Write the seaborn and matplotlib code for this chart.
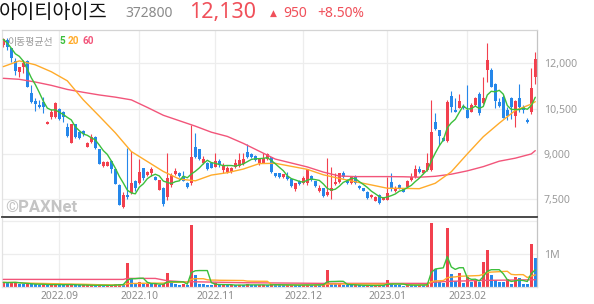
import numpy as np
import pandas as pd
import matplotlib
matplotlib.use("Agg")
import matplotlib.pyplot as plt
import seaborn as sns

# ---------------- data ----------------
stock_name = "아이티아이즈"
stock_code = "372800"
last_price = "12,130"
change_abs = "950"
change_pct = "+8.50%"

holidays = ["2022-08-15", "2022-09-09", "2022-09-12", "2022-10-03", "2022-10-10",
            "2022-12-30", "2023-01-23", "2023-01-24"]
dates = pd.bdate_range("2022-08-11", "2023-02-24")
dates = dates[~dates.isin(pd.to_datetime(holidays))]

opens = [12590, 12770, 12490, 12090, 11720, 11870, 12090, 11010, 10760, 10620,
         10730, 9990, 10210, 10210, 10480, 10400, 9900, 9370, 9980, 9740,
         9760, 9240, 9410, 9560, 9150, 8610, 8610, 8780, 8490, 7970,
         7230, 7640, 7700, 8100, 8030, 8520, 8300, 8380, 8250, 7810,
         7860, 7560, 7970, 8340, 8380, 8270, 8050, 8030, 9220, 9150,
         8690, 8690, 8690, 8580, 8780, 8470, 8410, 8410, 8580, 8600,
         8670, 9080, 9000, 8930, 8690, 8710, 8820, 8890, 8360, 8360,
         8230, 8270, 8160, 7830, 8100, 8030, 8030, 8270, 8100, 7790,
         7860, 7640, 7790, 8000, 8080, 8360, 8140, 8030, 8250, 7940,
         7860, 7750, 7560, 7450, 7640, 7480, 7480, 8080, 7790, 7970,
         7860, 7900, 8140, 8250, 8510, 8380, 8470, 8470, 10050, 9790,
         9540, 9430, 10920, 10460, 10530, 10600, 10460, 10400, 10620, 10970,
         10680, 11780, 11780, 11300, 10730, 10900, 10460, 10840, 10240, 10860,
         10570, 10120, 10400, 11550]
highs = [12830, 12830, 12510, 12160, 11890, 12110, 12120, 11280, 10840, 10790,
         10900, 10100, 10480, 10720, 10510, 10420, 10040, 9990, 10000, 9760,
         9790, 9400, 9660, 9580, 9180, 8760, 8770, 8800, 8510, 7990,
         7750, 9190, 9110, 8140, 8820, 8540, 8420, 8560, 8280, 8140,
         7920, 9020, 8360, 8520, 8400, 8420, 8080, 9960, 9680, 9170,
         8930, 8740, 8700, 9040, 8840, 8690, 8600, 8580, 8820, 9020,
         9020, 9330, 9020, 8960, 8860, 9020, 9020, 8910, 8370, 8370,
         8340, 8410, 8170, 8050, 8130, 8270, 8510, 8310, 8120, 7970,
         7870, 8860, 8580, 8360, 8380, 8420, 8160, 8260, 8300, 7960,
         7880, 7770, 7660, 7600, 7680, 7580, 8250, 8360, 7940, 7990,
         7880, 8130, 8360, 8640, 8590, 8480, 9020, 10790, 10340, 9800,
         9560, 10790, 11090, 10840, 10970, 10660, 11280, 10680, 10870, 11040,
         11530, 12660, 11830, 11340, 10840, 10960, 10560, 10900, 10780, 11300,
         10620, 10200, 11830, 12380]
lows = [12550, 12440, 12050, 11610, 11560, 11690, 11200, 10680, 10430, 10510,
        10350, 9980, 10150, 10190, 10120, 10070, 9570, 9350, 9540, 9500,
        9590, 9220, 9370, 9180, 8660, 8580, 8590, 8360, 8000, 7300,
        7200, 7500, 7680, 7780, 7990, 8130, 8280, 8270, 8130, 7800,
        7280, 7480, 7920, 8300, 8250, 8090, 7880, 7970, 8860, 8800,
        8660, 8470, 8520, 8560, 8580, 8360, 8360, 8380, 8530, 8580,
        8640, 8850, 8870, 8770, 8630, 8690, 8800, 8380, 8250, 8200,
        8200, 8150, 7920, 7790, 7980, 8000, 7980, 8090, 7920, 7750,
        7580, 7600, 7500, 7970, 8030, 8200, 8010, 8010, 8010, 7850,
        7770, 7500, 7530, 7440, 7340, 7470, 7470, 7780, 7750, 7850,
        7740, 7860, 8110, 8200, 8360, 8350, 8450, 8450, 9780, 9300,
        9420, 9400, 10400, 10380, 10510, 10490, 10180, 10380, 10600, 10290,
        10650, 11390, 11200, 10530, 10560, 10180, 10130, 10150, 9900, 10400,
        10340, 10030, 10310, 11300]
closes = [12790, 12550, 12160, 11760, 11890, 12000, 11210, 10730, 10650, 10570,
          10570, 10070, 10400, 10700, 10150, 10210, 9590, 9980, 9550, 9520,
          9660, 9370, 9570, 9200, 8670, 8740, 8740, 8490, 8010, 7310,
          7640, 7560, 8030, 7860, 8410, 8190, 8410, 8490, 8140, 8130,
          7340, 8190, 8300, 8450, 8270, 8120, 7920, 8910, 8910, 8820,
          8820, 8490, 8530, 8780, 8630, 8630, 8520, 8520, 8690, 8800,
          8820, 8890, 8890, 8800, 8820, 8880, 9000, 8410, 8270, 8230,
          8320, 8160, 7940, 8050, 7990, 8190, 8490, 8140, 7940, 7860,
          7610, 7750, 7860, 8080, 8360, 8250, 8030, 8250, 8030, 7860,
          7790, 7530, 7640, 7590, 7390, 7560, 7700, 7860, 7860, 7860,
          7750, 8100, 8230, 8490, 8410, 8470, 8710, 9740, 9820, 9600,
          9430, 10730, 10570, 10400, 10750, 10510, 10200, 10620, 10840, 10350,
          10840, 12110, 11230, 10750, 10600, 10200, 10240, 10570, 10750, 10570,
          10450, 10050, 11180, 12130]
volumes_m = [0.14, 0.13, 0.14, 0.15, 0.09, 0.08, 0.10, 0.09, 0.08, 0.07,
             0.08, 0.06, 0.07, 0.09, 0.07, 0.06, 0.07, 0.08, 0.06, 0.05,
             0.05, 0.05, 0.06, 0.05, 0.06, 0.04, 0.05, 0.05, 0.09, 0.10,
             0.08, 0.72, 0.26, 0.10, 0.16, 0.09, 0.10, 0.08, 0.09, 0.07,
             0.08, 0.43, 0.12, 0.08, 0.07, 0.08, 0.07, 1.88, 0.36, 0.10,
             0.08, 0.07, 0.06, 0.11, 0.06, 0.07, 0.05, 0.06, 0.05, 0.07,
             0.06, 0.08, 0.06, 0.05, 0.06, 0.07, 0.06, 0.08, 0.07, 0.06,
             0.05, 0.06, 0.07, 0.06, 0.05, 0.06, 0.07, 0.06, 0.07, 0.06,
             0.08, 0.52, 0.10, 0.08, 0.09, 0.07, 0.06, 0.05, 0.06, 0.05,
             0.04, 0.05, 0.04, 0.05, 0.06, 0.05, 0.21, 0.08, 0.06, 0.05,
             0.04, 0.08, 0.06, 0.05, 0.06, 0.05, 0.10, 1.95, 0.56, 0.16,
             0.13, 1.80, 0.39, 0.19, 0.41, 0.13, 0.29, 0.14, 0.21, 0.16,
             0.77, 1.12, 0.36, 0.21, 0.16, 0.15, 0.23, 0.09, 0.31, 0.26,
             0.09, 0.08, 1.30, 0.87]

ma_idx = list(range(0, 133, 4)) + [133]
ma20_read = [11890, 12080, 11950, 11720, 11420, 10790, 10250, 9700, 9080, 8750,
             8420, 8170, 8110, 8300, 8380, 8500, 8680, 8690, 8590, 8490,
             8310, 8190, 8080, 7975, 7865, 7860, 7850, 8030, 8410, 9000,
             9570, 10020, 10440, 10650, 10730]
ma60_read = [11503, 11470, 11380, 11270, 11135, 11040, 10952, 10880, 10790, 10540,
             10280, 10100, 9920, 9720, 9580, 9350, 9090, 8830, 8700, 8570,
             8400, 8270, 8250, 8250, 8250, 8245, 8230, 8260, 8330, 8440,
             8580, 8760, 8860, 9000, 9110]
vol60_idx = [0, 30, 31, 38, 41, 46, 47, 60, 80, 106, 107, 111, 120, 133]
vol60_read = [0.23, 0.23, 0.26, 0.26, 0.19, 0.15, 0.16, 0.13, 0.11, 0.11, 0.14, 0.17, 0.20, 0.22]

tick_labels = ["2022.09", "2022.10", "2022.11", "2022.12", "2023.01", "2023.02"]
price_ticks = [7500, 9000, 10500, 12000]
vol_ticks = [1, 2]
vol_tick_labels = ["1M", ""]
ma_labels = ["5", "20", "60"]

# ---------------- styling ----------------
RED = "#f2404e"
BLUE = "#2587ea"
C5 = "#3cbf3c"
C20 = "#ffab2a"
C60 = "#f2557a"
TXT_RED = "#f0505a"
GRID = "#ededed"

sns.set_style("white")
plt.rcParams["font.family"] = ["Noto Sans", "Noto Sans CJK KR", "DejaVu Sans"]

W, H = 594, 304
fig = plt.figure(figsize=(W / 100, H / 100), dpi=100)
ax = fig.add_axes([2 / W, (H - 217) / H, 535 / W, 187 / H])
axv = fig.add_axes([2 / W, (H - 287) / H, 535 / W, 69 / H], sharex=ax)

df = pd.DataFrame({"date": dates, "open": opens, "high": highs, "low": lows,
                   "close": closes, "vol": volumes_m})
df["i"] = np.arange(len(df))
up = df["close"] >= df["open"]
ccol = np.where(up, RED, BLUE)

# MA lines
df["ma5"] = df["close"].rolling(5, min_periods=1).mean()
ma = pd.DataFrame({"i": ma_idx, "ma20": ma20_read, "ma60": ma60_read})

# month tick positions
ym = df["date"].dt.strftime("%Y.%m")
tick_pos = [int(df.loc[ym == lab, "i"].iloc[0]) for lab in tick_labels]

for a in (ax, axv):
    a.set_xticks(tick_pos)
    a.grid(True, color=GRID, lw=0.9)
    a.set_axisbelow(True)

# candles
ax.vlines(df["i"], df["low"], df["high"], colors=ccol, lw=0.8, zorder=2)
body = (df["close"] - df["open"]).abs().clip(lower=20)
ax.bar(df["i"], body, bottom=np.minimum(df["open"], df["close"]), width=0.74,
       color=ccol, lw=0, zorder=2)

sns.lineplot(data=ma, x="i", y="ma60", ax=ax, color=C60, lw=1.0, zorder=3)
sns.lineplot(data=ma, x="i", y="ma20", ax=ax, color=C20, lw=1.0, zorder=3)
sns.lineplot(data=df, x="i", y="ma5", ax=ax, color=C5, lw=1.0, zorder=3)

ax.set_xlim(-0.33, 133.43)
ax.set_ylim(6913, 13102)
ax.set_yticks(price_ticks)
ax.set_yticklabels([f"{v:,}" for v in price_ticks])
ax.yaxis.tick_right()
ax.tick_params(axis="y", length=0, pad=5, labelsize=7.6, labelcolor="#9a9a9a")
ax.tick_params(axis="x", length=0, labelbottom=False)
ax.set_xlabel("")
ax.set_ylabel("")

# volume
vprev = df["vol"].shift(1)
vcol = np.where((df["vol"] >= vprev) | vprev.isna(), RED, BLUE)
axv.bar(df["i"], df["vol"], width=0.68, color=vcol, lw=0, zorder=2)
df["v5"] = df["vol"].rolling(5, min_periods=1).mean()
df["v20"] = df["vol"].rolling(20, min_periods=1).mean()
v60 = pd.DataFrame({"i": vol60_idx, "v60": vol60_read})
sns.lineplot(data=v60, x="i", y="v60", ax=axv, color=C60, lw=1.0, zorder=3)
sns.lineplot(data=df, x="i", y="v20", ax=axv, color=C20, lw=1.0, zorder=3)
sns.lineplot(data=df, x="i", y="v5", ax=axv, color=C5, lw=1.0, zorder=3)
axv.set_ylim(0, 2.09)
axv.set_yticks(vol_ticks)
axv.set_yticklabels(vol_tick_labels)
axv.yaxis.tick_right()
axv.tick_params(axis="y", length=0, pad=5, labelsize=7.6, labelcolor="#9a9a9a")
axv.set_xticklabels(tick_labels)
axv.tick_params(axis="x", length=0, pad=3, labelsize=7.4, labelcolor="#8c8c8c")
axv.set_xlabel("")
axv.set_ylabel("")

# spines
for s, c in (("top", "#d4d4d4"), ("right", "#c4c4c4"), ("left", "#e2e2e2")):
    ax.spines[s].set_color(c)
    ax.spines[s].set_linewidth(0.9)
ax.spines["bottom"].set_color("#3a3a3a")
ax.spines["bottom"].set_linewidth(1.3)
axv.spines["top"].set_visible(False)
axv.spines["right"].set_color("#c4c4c4")
axv.spines["left"].set_color("#e2e2e2")
axv.spines["bottom"].set_color("#e2e2e2")
for s in ("right", "left", "bottom"):
    axv.spines[s].set_linewidth(0.9)

# header texts
def fx(px):
    return px / W

def fy(py):
    return 1 - py / H

fig.text(fx(-1), fy(18.5), stock_name, fontsize=14.2, color="#111111",
         family=["Noto Sans CJK KR", "DejaVu Sans"], va="baseline")
fig.text(fx(125), fy(17), stock_code, fontsize=10, color="#8a8a8a", va="baseline")
fig.text(fx(189), fy(18), last_price, fontsize=15.5, color=TXT_RED, va="baseline")
fig.text(fx(270), fy(15.5), "▲", fontsize=6.5, color=TXT_RED,
         family=["DejaVu Sans"], va="baseline")
fig.text(fx(283), fy(17), change_abs, fontsize=10, color=TXT_RED, va="baseline")
fig.text(fx(317), fy(17), change_pct, fontsize=10, color=TXT_RED, va="baseline")

# MA legend
fig.text(fx(7), fy(44.5), "이동평균선", fontsize=7.1, color="#9a9a9a",
         family=["Noto Sans CJK KR", "DejaVu Sans"], va="baseline")
for lab, xpos, col in zip(ma_labels, [59.5, 67.5, 82.5], [C5, C20, C60]):
    fig.text(fx(xpos), fy(44.5), lab, fontsize=7.2, color=col, va="baseline",
             family=["Roboto", "DejaVu Sans"], weight="bold")

# watermark
fig.text(fx(5), fy(212), "©PAXNet", fontsize=12, weight="bold", color="#c4c4c4",
         family=["Roboto", "DejaVu Sans"], va="baseline")

fig.savefig("out.png", dpi=100)
